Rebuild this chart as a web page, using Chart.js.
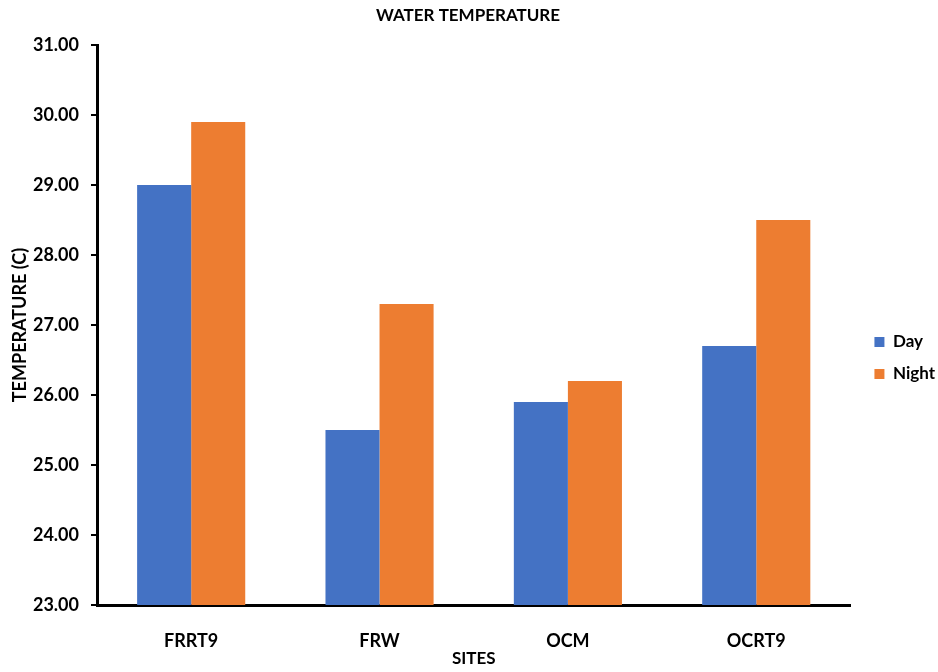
<!DOCTYPE html>
<html>
<head>
<meta charset="utf-8">
<script src="https://cdn.jsdelivr.net/npm/chart.js@4/dist/chart.umd.min.js"></script>
<style>
  html, body { margin: 0; padding: 0; background: #fff; }
  #wrap { width: 938px; height: 672px; }
</style>
</head>
<body>
<div id="wrap"><canvas id="c" width="938" height="672"></canvas></div>
<script>
// Sites along the x axis
const sites = ['FRRT9', 'FRW', 'OCM', 'OCRT9'];
// Mean water temperature (°C)
const dayTemps = [29.0, 25.5, 25.9, 26.7];
const nightTemps = [29.9, 27.3, 26.2, 28.5];
// Temperature axis range
const yMin = 23;
const yMax = 31;
const yStep = 1;

const FONT = 'Lato, "Open Sans", "DejaVu Sans", sans-serif';
Chart.defaults.color = '#000';
Chart.defaults.font.family = FONT;
Chart.defaults.font.weight = 'bold';

// Nudge the legend a little right of and below its default slot
const legendNudge = {
  id: 'legendNudge',
  afterLayout(chart) {
    const lg = chart.legend;
    if (!lg) return;
    lg.left += 9; lg.right += 9;
    lg.top += 22; lg.bottom += 22;
  }
};

new Chart(document.getElementById('c'), {
  type: 'bar',
  data: {
    labels: sites,
    datasets: [
      { label: 'Day', data: dayTemps, backgroundColor: '#4472C4', borderWidth: 0 },
      { label: 'Night', data: nightTemps, backgroundColor: '#ED7D31', borderWidth: 0 }
    ]
  },
  options: {
    responsive: false,
    animation: false,
    layout: { padding: { left: 0, right: 2, top: 0, bottom: 0 } },
    datasets: { bar: { categoryPercentage: 0.574, barPercentage: 1.0 } },
    plugins: {
      title: {
        display: true,
        text: 'WATER TEMPERATURE',
        font: { size: 17, weight: 'bold' },
        color: '#000',
        padding: { top: 5, bottom: 19.6 }
      },
      legend: {
        position: 'right',
        align: 'center',
        labels: {
          boxWidth: 10,
          boxHeight: 10,
          padding: 15,
          font: { size: 17, weight: 'bold' },
          color: '#000'
        }
      },
      tooltip: { enabled: false }
    },
    scales: {
      x: {
        offset: true,
        grid: { display: false },
        border: { display: true, color: '#000', width: 3 },
        ticks: { padding: 17, font: { size: 18, weight: 'bold' }, color: '#000' },
        title: { display: true, text: 'SITES', font: { size: 17, weight: 'bold' }, color: '#000', padding: { top: 0, bottom: 3 } },
        afterFit: (s) => { s.height = 67; }
      },
      y: {
        min: yMin,
        max: yMax,
        ticks: {
          stepSize: yStep,
          padding: 12,
          font: { size: 18, weight: 'bold' },
          color: '#000',
          callback: (v) => Number(v).toFixed(2)
        },
        grid: { display: true, drawOnChartArea: false, drawTicks: true, tickLength: 6, color: '#000', lineWidth: 2 },
        border: { display: true, color: '#000', width: 3 },
        title: { display: true, text: 'TEMPERATURE (C)', font: { size: 18, weight: 'bold' }, color: '#000', padding: { top: 9, bottom: 0 } },
        afterFit: (s) => { s.width = 97; }
      }
    }
  },
  plugins: [legendNudge]
});
</script>
</body>
</html>
